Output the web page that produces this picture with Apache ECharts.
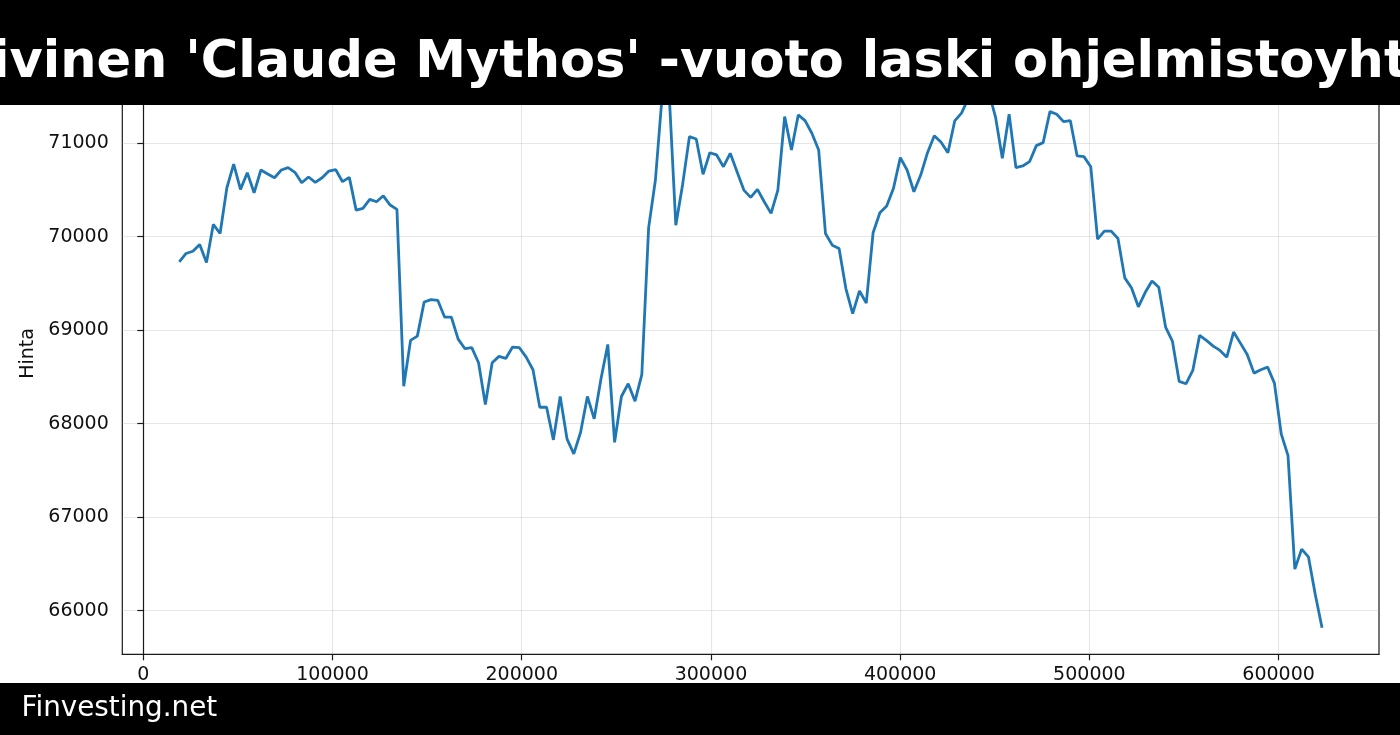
<!DOCTYPE html>
<html>
<head>
<meta charset="utf-8">
<script src="https://cdn.jsdelivr.net/npm/echarts@6/dist/echarts.min.js"></script>
<style>
  html, body { margin: 0; padding: 0; background: #fff; }
  #chart { width: 1400px; height: 735px; }
</style>
</head>
<body>
<div id="chart"></div>
<script>
// otsikko (näkyvä osa, reunat leikkautuvat kuvassa)
const titleText = "ivinen 'Claude Mythos' -vuoto laski ohjelmistoyht";
const footerText = 'Finvesting.net';
const yName = 'Hinta';

// x-akseli: tasavälinen näytteistys
const xStart = 19000;
const xStep = 3595;

// hinnat luettu kuvasta
const prices = [
  69731, 69821, 69845, 69917, 69724, 70132, 70035, 70524, 70778, 70507,
  70685, 70470, 70714, 70671, 70631, 70714, 70739, 70689, 70578, 70639,
  70582, 70631, 70703, 70717, 70589, 70635, 70285, 70303, 70400, 70374,
  70438, 70339, 70293, 68401, 68891, 68937, 69302, 69328, 69320, 69141,
  69141, 68905, 68802, 68813, 68652, 68205, 68652, 68720, 68698, 68820,
  68813, 68712, 68577, 68176, 68176, 67827, 68291, 67838, 67677, 67908,
  68291, 68052, 68481, 68848, 67801, 68291, 68427, 68241, 68524, 70095,
  70607, 71520, 71560, 70124, 70560, 71071, 71046, 70668, 70899, 70875,
  70749, 70893, 70696, 70499, 70421, 70507, 70374, 70250, 70499, 71285,
  70928, 71303, 71242, 71107, 70928, 70035, 69910, 69874, 69446, 69178,
  69420, 69291, 70042, 70256, 70328, 70518, 70846, 70714, 70481, 70660,
  70899, 71081, 71011, 70899, 71239, 71322, 71480, 71600, 71680, 71550,
  71280, 70839, 71311, 70739, 70757, 70803, 70975, 71007, 71339, 71311,
  71232, 71242, 70864, 70857, 70749, 69975, 70060, 70060, 69982, 69560,
  69452, 69250, 69403, 69527, 69460, 69034, 68884, 68452, 68427, 68570,
  68945, 68891, 68830, 68784, 68712, 68980, 68862, 68741, 68541, 68577,
  68605, 68434, 67891, 67659, 66444, 66658, 66576, 66176, 65818
];

const xTicks = [0, 100000, 200000, 300000, 400000, 500000, 600000];
const yTicks = [66000, 67000, 68000, 69000, 70000, 71000];

const chart = echarts.init(document.getElementById('chart'), null, { renderer: 'canvas' });
const font = 'DejaVu Sans';
const gridCol = 'rgba(176,176,176,0.32)';

const seriesData = prices.map(function (p, i) {
  return [xStart + i * xStep, p];
});

const option = {
  backgroundColor: '#fff',
  animation: false,
  grid: {
    left: 122.3,
    right: 21,
    top: 52.5,
    bottom: 80.7,
    containLabel: false,
    outerBoundsMode: 'none',
    show: true,
    borderColor: '#1a1a1a',
    borderWidth: 1.2,
    backgroundColor: 'transparent'
  },
  xAxis: {
    type: 'value',
    min: -11111,
    max: 653070,
    axisLine: { show: true, onZero: false, lineStyle: { color: '#1a1a1a', width: 1.2 } },
    axisTick: { show: true, length: 6, customValues: xTicks, lineStyle: { color: '#1a1a1a', width: 1.2 } },
    axisLabel: {
      customValues: xTicks,
      margin: 11,
      color: '#111',
      fontFamily: font,
      fontSize: 19,
      formatter: function (v) { return String(v); }
    },
    splitLine: { show: true, lineStyle: { color: gridCol, width: 1.1 } }
  },
  yAxis: {
    type: 'value',
    min: 65533,
    max: 71971,
    name: yName,
    nameLocation: 'middle',
    nameGap: 84,
    nameRotate: 90,
    nameTextStyle: { color: '#111', fontFamily: font, fontSize: 19 },
    axisLine: { show: true, lineStyle: { color: '#1a1a1a', width: 1.2 } },
    axisTick: { show: true, length: 6, customValues: yTicks, lineStyle: { color: '#1a1a1a', width: 1.2 } },
    axisLabel: {
      customValues: yTicks,
      margin: 13.5,
      color: '#111',
      fontFamily: font,
      fontSize: 19,
      formatter: function (v) { return String(v); }
    },
    splitLine: { show: true, lineStyle: { color: gridCol, width: 1.1 } }
  },
  series: [{
    type: 'line',
    data: seriesData,
    showSymbol: false,
    symbol: 'none',
    lineStyle: { color: '#1f77b4', width: 2.8 },
    itemStyle: { color: '#1f77b4' },
    clip: true
  }],
  graphic: [
    {
      type: 'rect', z: 100,
      shape: { x: 0, y: 0, width: 1400, height: 105 },
      style: { fill: '#000' }
    },
    {
      type: 'text', z: 101,
      x: -8, y: 64,
      style: {
        text: titleText,
        fill: '#fff',
        font: 'bold 51px "DejaVu Sans"',
        textAlign: 'left',
        textVerticalAlign: 'middle'
      }
    },
    {
      type: 'rect', z: 100,
      shape: { x: 0, y: 683, width: 1400, height: 52 },
      style: { fill: '#000' }
    },
    {
      type: 'text', z: 101,
      x: 21.5, y: 709,
      style: {
        text: footerText,
        fill: '#fff',
        font: '27.8px "DejaVu Sans"',
        textAlign: 'left',
        textVerticalAlign: 'middle'
      }
    }
  ]
};

chart.setOption(option);
</script>
</body>
</html>
